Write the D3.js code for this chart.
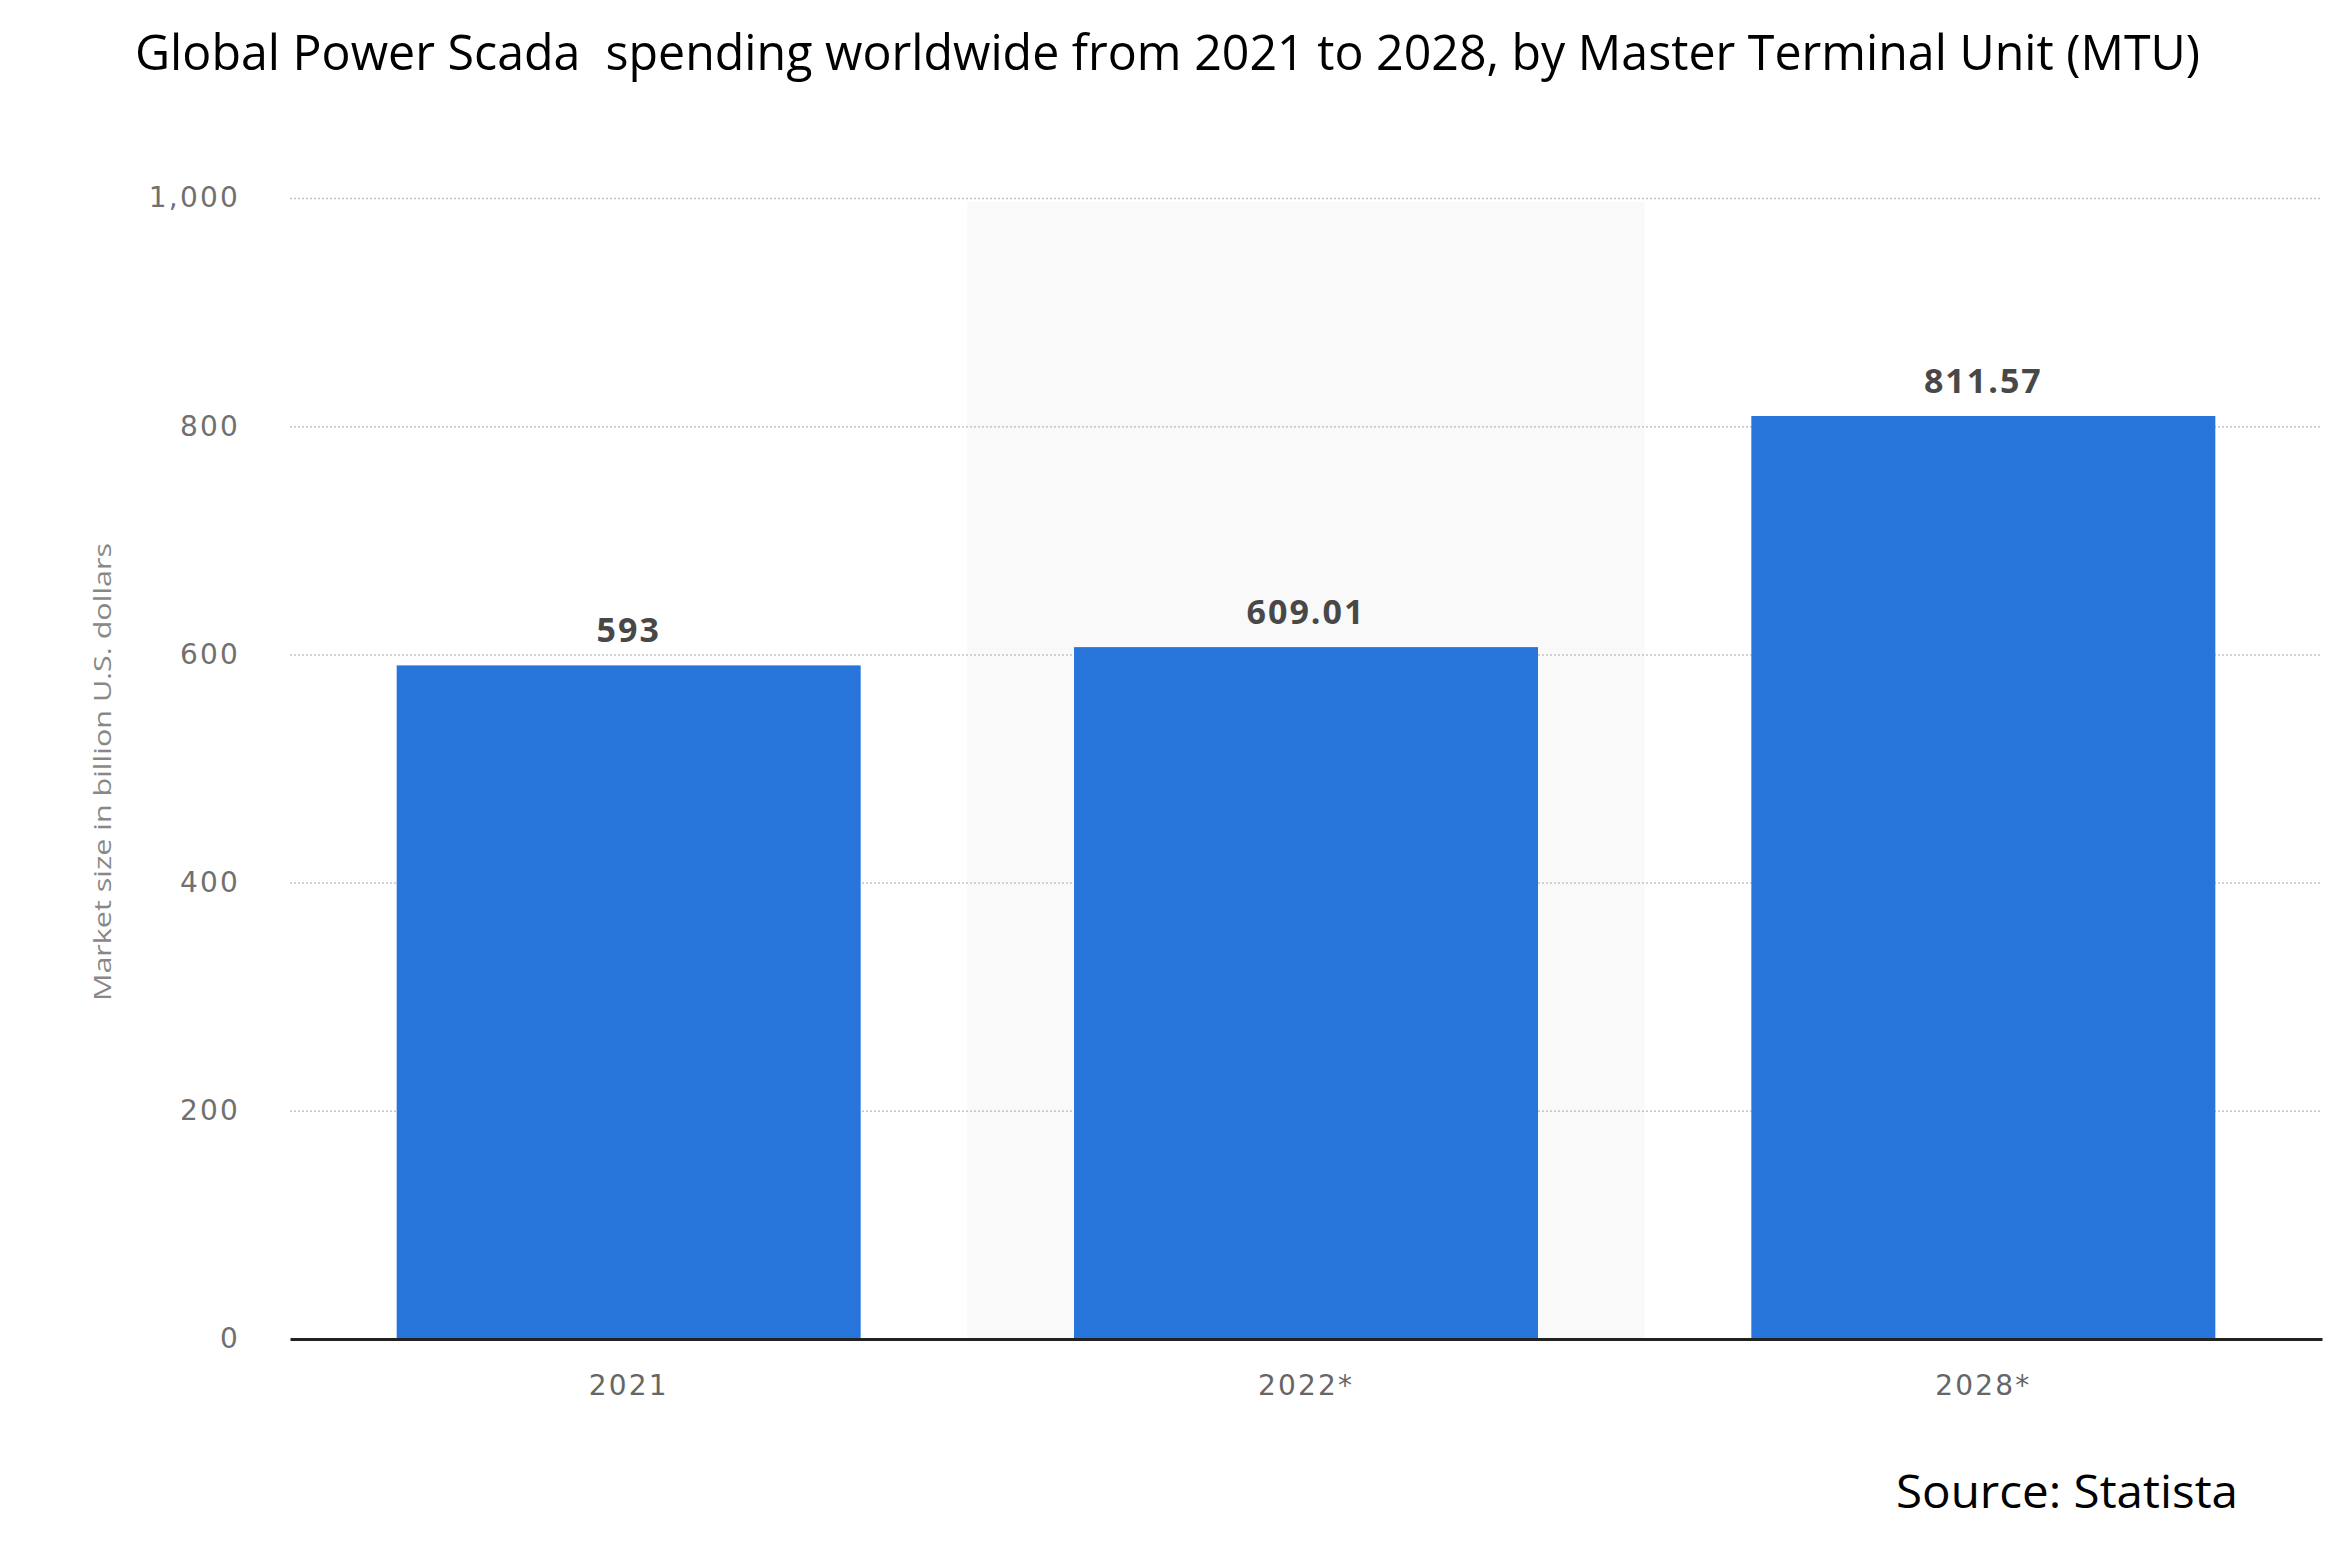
<!DOCTYPE html>
<html>
<head>
<meta charset="utf-8">
<script src="https://cdn.jsdelivr.net/npm/d3@7"></script>
<style>
  html, body { margin: 0; padding: 0; background: #ffffff; }
  svg { display: block; }
</style>
</head>
<body>
<svg id="chart" width="2350" height="1556"></svg>
<script>
const categories = ["2021", "2022*", "2028*"];
const values = [593, 609.01, 811.57];
const valueLabels = ["593", "609.01", "811.57"];
const yTicks = [0, 200, 400, 600, 800, 1000];
const yTickLabels = ["0", "200", "400", "600", "800", "1,000"];
const titleText = "Global Power Scada\u00a0 spending worldwide from 2021 to 2028, by Master Terminal Unit (MTU)";
const yAxisTitle = "Market size in billion U.S. dollars";
const sourceText = "Source: Statista";

const svg = d3.select("#chart");
const plot = { left: 290, right: 2322, top: 198, bottom: 1339 };

const x = d3.scaleBand()
  .domain(categories)
  .range([plot.left, plot.right])
  .paddingInner(0.315)
  .paddingOuter(0.1575);

const y = d3.scaleLinear()
  .domain([0, 1000])
  .range([plot.bottom, plot.top]);

// Highlight band behind the middle category
svg.append("rect")
  .attr("x", x(categories[1]) - x.step() * x.paddingInner() / 2)
  .attr("y", y(1000) + 4)
  .attr("width", x.step())
  .attr("height", y(0) - y(1000) - 4)
  .attr("fill", "#f9f9f9");

// Gridlines via axis
const grid = svg.append("g")
  .attr("transform", `translate(${plot.left},0)`)
  .call(d3.axisRight(y).tickValues(yTicks.filter(d => d > 0)).tickSize(plot.right - plot.left - 2).tickFormat(""));
grid.select(".domain").remove();
grid.selectAll(".tick line")
  .attr("stroke", "#c4c4c4")
  .attr("stroke-width", 1.5)
  .attr("stroke-dasharray", "2,2");

// Y tick labels
const yAxis = svg.append("g")
  .attr("transform", `translate(240,0)`)
  .call(d3.axisLeft(y).tickValues(yTicks).tickSize(0).tickPadding(0)
    .tickFormat((d, i) => yTickLabels[i]));
yAxis.select(".domain").remove();
yAxis.selectAll("text")
  .attr("font-family", "'DejaVu Sans', sans-serif")
  .attr("font-size", 28)
  .attr("letter-spacing", 2.2)
  .attr("fill", "#707070");

// Bars
svg.append("g").selectAll("rect")
  .data(values)
  .join("rect")
  .attr("x", (d, i) => x(categories[i]))
  .attr("y", d => y(d) + 3)
  .attr("width", x.bandwidth())
  .attr("height", d => y(0) - y(d) - 3)
  .attr("fill", "#2775db");

// Value labels
svg.append("g").selectAll("text")
  .data(values)
  .join("text")
  .attr("x", (d, i) => x(categories[i]) + x.bandwidth() / 2)
  .attr("y", d => y(d) - 20)
  .attr("text-anchor", "middle")
  .attr("font-family", "'Open Sans', sans-serif")
  .attr("font-weight", 700)
  .attr("font-size", 34)
  .attr("letter-spacing", 2)
  .attr("fill", "#484848")
  .text((d, i) => valueLabels[i]);

// Baseline / x axis
const xAxis = svg.append("g")
  .attr("transform", `translate(0,${plot.bottom})`)
  .call(d3.axisBottom(x).tickSize(0).tickPadding(36));
xAxis.select(".domain")
  .attr("stroke", "#222")
  .attr("stroke-width", 3);
xAxis.selectAll("text")
  .attr("font-family", "'DejaVu Sans', sans-serif")
  .attr("font-size", 28)
  .attr("letter-spacing", 2.2)
  .attr("fill", "#666");

// Y axis title
svg.append("text")
  .attr("transform", `translate(111,772) rotate(-90)`)
  .attr("text-anchor", "middle")
  .attr("font-family", "'Open Sans', sans-serif")
  .attr("font-size", 24)
  .attr("textLength", 458)
  .attr("lengthAdjust", "spacingAndGlyphs")
  .attr("fill", "#888")
  .text(yAxisTitle);

// Title
svg.append("text")
  .attr("x", 135)
  .attr("y", 70)
  .attr("font-family", "'Open Sans', sans-serif")
  .attr("font-size", 50)
  .attr("textLength", 2065)
  .attr("lengthAdjust", "spacingAndGlyphs")
  .attr("fill", "#000")
  .text(titleText);

// Source
svg.append("text")
  .attr("x", 1896)
  .attr("y", 1508)
  .attr("font-family", "'Open Sans', sans-serif")
  .attr("font-size", 46)
  .attr("textLength", 342)
  .attr("lengthAdjust", "spacingAndGlyphs")
  .attr("fill", "#000")
  .text(sourceText);
</script>
</body>
</html>
